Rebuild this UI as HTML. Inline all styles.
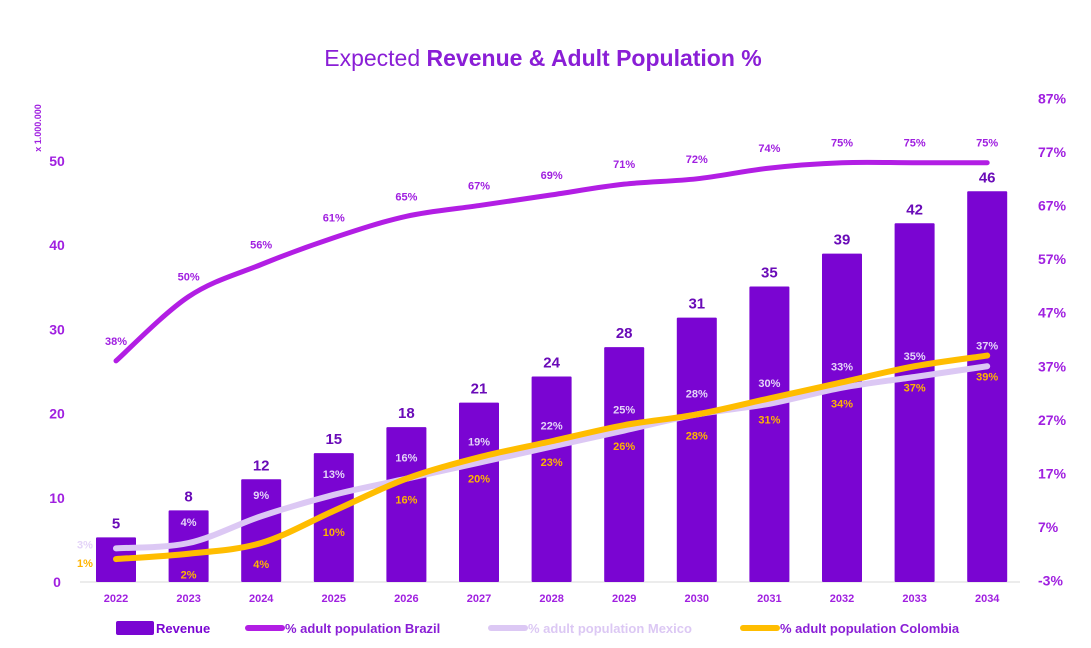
<!DOCTYPE html>
<html><head><meta charset="utf-8"><style>
html,body{margin:0;padding:0;background:#fff;width:1091px;height:648px;overflow:hidden}
svg text{font-family:"Liberation Sans",sans-serif;font-weight:bold}
</style></head><body>
<svg id="chart" width="1091" height="648" viewBox="0 0 1091 648">
<text x="543" y="66" text-anchor="middle" font-size="23" fill="#8a1ed6" style="font-weight:normal">Expected <tspan font-weight="bold">Revenue &amp; Adult Population %</tspan></text>
<text transform="translate(41,128) rotate(-90)" text-anchor="middle" font-size="9" fill="#a020e0">x 1.000.000</text>
<line x1="80" y1="582" x2="1020" y2="582" stroke="#d9d9d9" stroke-width="1"/>
<g id="bars"></g><g id="lines"></g><g id="labels"></g><g id="axes"></g>
<g font-size="13">
<rect x="116" y="621" width="38" height="14" rx="2" fill="#7a05d2"/>
<text x="156" y="633" fill="#7a05d2">Revenue</text>
<line x1="248" y1="628" x2="282" y2="628" stroke="#b21ee4" stroke-width="6" stroke-linecap="round"/>
<text x="285" y="633" fill="#8a1ed6">% adult population Brazil</text>
<line x1="491" y1="628" x2="525" y2="628" stroke="#dcc8f4" stroke-width="6" stroke-linecap="round"/>
<text x="528" y="633" fill="#dcc8f4">% adult population Mexico</text>
<line x1="743" y1="628" x2="777" y2="628" stroke="#ffbd00" stroke-width="6" stroke-linecap="round"/>
<text x="780" y="633" fill="#8a1ed6">% adult population Colombia</text>
</g>
</svg>
<script>
const years=["2022","2023","2024","2025","2026","2027","2028","2029","2030","2031","2032","2033","2034"];
const revenue=[5.3,8.5,12.2,15.3,18.4,21.3,24.4,27.9,31.4,35.1,39.0,42.6,46.4];
const revenueLabels=["5","8","12","15","18","21","24","28","31","35","39","42","46"];
const brazil=[38,50,56,61,65,67,69,71,72,74,75,75,75];
const mexico=[3,4,9,13,16,19,22,25,28,30,33,35,37];
const colombia=[1,2,4,10,16,20,23,26,28,31,34,37,39];
const leftTicks=[0,10,20,30,40,50];
const rightTicks=[-3,7,17,27,37,47,57,67,77,87];
const NS="http://www.w3.org/2000/svg";
const xS=i=>116+i*72.6;
const yL=v=>582-v*8.42;
const yR=v=>580.5-(v+3)*5.356;
function mk(tag,attrs,parent,txt){const e=document.createElementNS(NS,tag);for(const k in attrs)e.setAttribute(k,attrs[k]);if(txt!==undefined)e.textContent=txt;document.getElementById(parent).appendChild(e);return e;}
years.forEach((y,i)=>{
  const b=mk('rect',{x:xS(i)-20,y:yL(revenue[i]),width:40,height:582-yL(revenue[i]),fill:'#7a05d2',rx:1},'bars');
  
  
  const t=mk('text',{x:xS(i),y:yL(revenue[i])-9,'text-anchor':'middle','font-size':15,fill:'#6a0bb8'},'labels',revenueLabels[i]);
  
  
  const xl=mk('text',{x:xS(i),y:602,'text-anchor':'middle','font-size':11,fill:'#a020e0'},'axes',y);
  
  
});
function path(vals){
  const p=vals.map((v,i)=>[xS(i),yR(v)]);
  let d='M'+p[0][0]+','+p[0][1];
  for(let i=0;i<p.length-1;i++){
    const p0=p[i-1]||p[i],p1=p[i],p2=p[i+1],p3=p[i+2]||p2;
    const c1=[p1[0]+(p2[0]-p0[0])/6,p1[1]+(p2[1]-p0[1])/6];
    const c2=[p2[0]-(p3[0]-p1[0])/6,p2[1]-(p3[1]-p1[1])/6];
    d+=' C'+c1+' '+c2+' '+p2;
  }
  return d;
}
const s1=mk('path',{d:path(mexico),fill:'none',stroke:'#dcc8f4','stroke-width':6,'stroke-linecap':'round'},'lines');


const s2=mk('path',{d:path(colombia),fill:'none',stroke:'#ffbd00','stroke-width':6,'stroke-linecap':'round'},'lines');


const s3=mk('path',{d:path(brazil),fill:'none',stroke:'#b21ee4','stroke-width':5,'stroke-linecap':'round'},'lines');


years.forEach((y,i)=>{
  const b=mk('text',{x:xS(i),y:yR(brazil[i])-16,'text-anchor':'middle','font-size':11,fill:'#a020e0'},'labels',brazil[i]+'%');
  
  
  const mx=i===0?85:xS(i), my=i===0?yR(mexico[i])+0:yR(mexico[i])-17;
  const m=mk('text',{x:mx,y:my,'text-anchor':'middle','font-size':11,fill:'#e4d4f8'},'labels',mexico[i]+'%');
  
  
  const cx=i===0?85:xS(i), cy=i===0?yR(colombia[i])+8:yR(colombia[i])+25;
  const c=mk('text',{x:cx,y:cy,'text-anchor':'middle','font-size':11,fill:'#ffb400'},'labels',colombia[i]+'%');
  
  
});
leftTicks.forEach(v=>{
  const t=mk('text',{x:57,y:yL(v)+5,'text-anchor':'middle','font-size':14,fill:'#a020e0'},'axes',String(v));
  
  
});
rightTicks.forEach(v=>{
  const t=mk('text',{x:1038,y:yR(v)+5,'text-anchor':'start','font-size':14,fill:'#a020e0'},'axes',v+'%');
  
  
});
</script>
</body></html>
